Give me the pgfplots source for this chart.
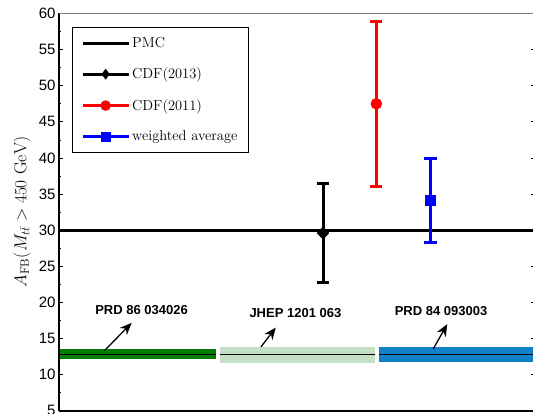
\documentclass[border=0pt]{standalone}
\usepackage{fontspec}
\usepackage{pgfplots}
\pgfplotsset{compat=1.18}
\usetikzlibrary{calc,arrows.meta}
\newfontfamily\arial{Liberation Sans}
\definecolor{dkgreen}{RGB}{0,125,0}
\definecolor{ltgreen}{RGB}{198,224,198}
\definecolor{bandblue}{RGB}{16,128,200}
\begin{document}
\begin{tikzpicture}
\begin{axis}[
  at={(0,0)}, anchor=south west,
  scale only axis, width=476pt, height=397.3pt,
  xmin=0, xmax=3, ymin=5, ymax=60,
  ytick={5,10,...,60}, minor y tick num=1, xtick=\empty,
  tick align=inside, major tick length=4pt, minor tick length=2.5pt,
  every tick/.style={black, line width=0.8pt},
  axis line style={draw=none},
  yticklabel style={font=\arial\fontsize{15}{17}\selectfont},
  /pgf/number format/assume math mode=true,
  ylabel={$A_{\rm FB}(M_{t\bar t}>450~{\rm GeV})$},
  ylabel style={font=\fontsize{17.5}{20}\selectfont, at={(rel axis cs:0,0.5)}, anchor=center, rotate=0, yshift=37pt},
  clip=false,
  legend style={at={(rel axis cs:0.027,0.966)}, anchor=north west, draw=black, line width=0.6pt, fill=white,
    font=\fontsize{14.5}{17}\selectfont, row sep=15pt, inner xsep=9pt, inner ysep=8pt, cells={anchor=west}},
  legend image code/.code={\draw[mark repeat=2,mark phase=2] plot coordinates {(0pt,0pt) (23pt,0pt) (46pt,0pt)};},
]
\coordinate (O) at (rel axis cs:0,0);
\addlegendimage{black, line width=3pt, mark=none}
\addlegendentry{PMC}
\addlegendimage{black, line width=3pt, mark=diamond*, mark size=5pt, mark options={line width=0.5pt}}
\addlegendentry{CDF(2013)}
\addlegendimage{red, line width=3pt, mark=*, mark size=5pt, mark options={line width=0.5pt}}
\addlegendentry{CDF(2011)}
\addlegendimage{blue, line width=3pt, mark=square*, mark size=4.5pt, mark options={line width=0.5pt}}
\addlegendentry{weighted average\hspace{22pt}}

% bands
\addplot[fill=dkgreen, draw=none, forget plot] coordinates {(0,12.2) (0.99,12.2) (0.99,13.6) (0,13.6)} -- cycle;
\addplot[fill=ltgreen, draw=none, forget plot] coordinates {(1.015,11.6) (1.99,11.6) (1.99,13.86) (1.015,13.86)} -- cycle;
\addplot[fill=bandblue, draw=none, forget plot] coordinates {(2.017,11.75) (3,11.75) (3,13.86) (2.017,13.86)} -- cycle;
\addplot[black, line width=1pt, forget plot] coordinates {(0,12.8) (0.99,12.8)};
\addplot[black, line width=1pt, forget plot] coordinates {(1.015,12.75) (1.99,12.75)};
\addplot[black, line width=1pt, forget plot] coordinates {(2.017,12.75) (3,12.75)};

% PMC
\addplot[black, line width=3pt, forget plot] coordinates {(0,30) (3,30)};

% measurements
\addplot[black, line width=3pt, mark=diamond*, mark size=6pt, mark options={line width=0.5pt, xscale=1.3}, forget plot,
  error bars/.cd, y dir=both, y explicit, error bar style={line width=3pt},
  error mark options={rotate=90, mark size=6pt, line width=3pt}]
  coordinates {(1.664,29.6) +- (0,6.8)};
\addplot[red, line width=3pt, mark=*, mark size=5.5pt, mark options={line width=0.5pt}, forget plot,
  error bars/.cd, y dir=both, y explicit, error bar style={line width=3pt},
  error mark options={rotate=90, mark size=6pt, line width=3pt}]
  coordinates {(2.0,47.5) +- (0,11.4)};
\addplot[blue, line width=3pt, mark=square*, mark size=5pt, mark options={line width=0.5pt}, forget plot,
  error bars/.cd, y dir=both, y explicit, error bar style={line width=3pt},
  error mark options={rotate=90, mark size=6.5pt, line width=3pt}]
  coordinates {(2.34,34.1) +- (0,5.8)};

% annotations
\node[font=\arial\bfseries\fontsize{13}{15}\selectfont] at (axis cs:0.52,18.9) {PRD 86 034026};
\node[font=\arial\bfseries\fontsize{13}{15}\selectfont] at (axis cs:1.49,18.55) {JHEP 1201 063};
\node[font=\arial\bfseries\fontsize{13}{15}\selectfont] at (axis cs:2.408,18.83) {PRD 84 093003};
\draw[-{Stealth[length=12pt,width=10pt]}, line width=1.3pt] (axis cs:0.287,13.34) -- (axis cs:0.458,17.17);
\draw[-{Stealth[length=12pt,width=10pt]}, line width=1.3pt] (axis cs:1.273,13.85) -- (axis cs:1.366,16.52);
\draw[-{Stealth[length=12pt,width=10pt]}, line width=1.3pt] (axis cs:2.359,13.58) -- (axis cs:2.447,17.0);

% axis lines
\draw[black, line width=2pt] (rel axis cs:0,0) -- (rel axis cs:0,1);
\draw[black, line width=1.5pt] (rel axis cs:0,0) -- (rel axis cs:1,0);
\draw[gray, line width=1pt] (rel axis cs:0,1) -- (rel axis cs:1,1);
\draw[black, line width=1pt] (rel axis cs:1,0) -- (rel axis cs:1,1);
\end{axis}
\pgfresetboundingbox
\path ($(O)+(-59pt,-3.2pt)$) rectangle ($(O)+(474pt,410.8pt)$);
\end{tikzpicture}
\end{document}
